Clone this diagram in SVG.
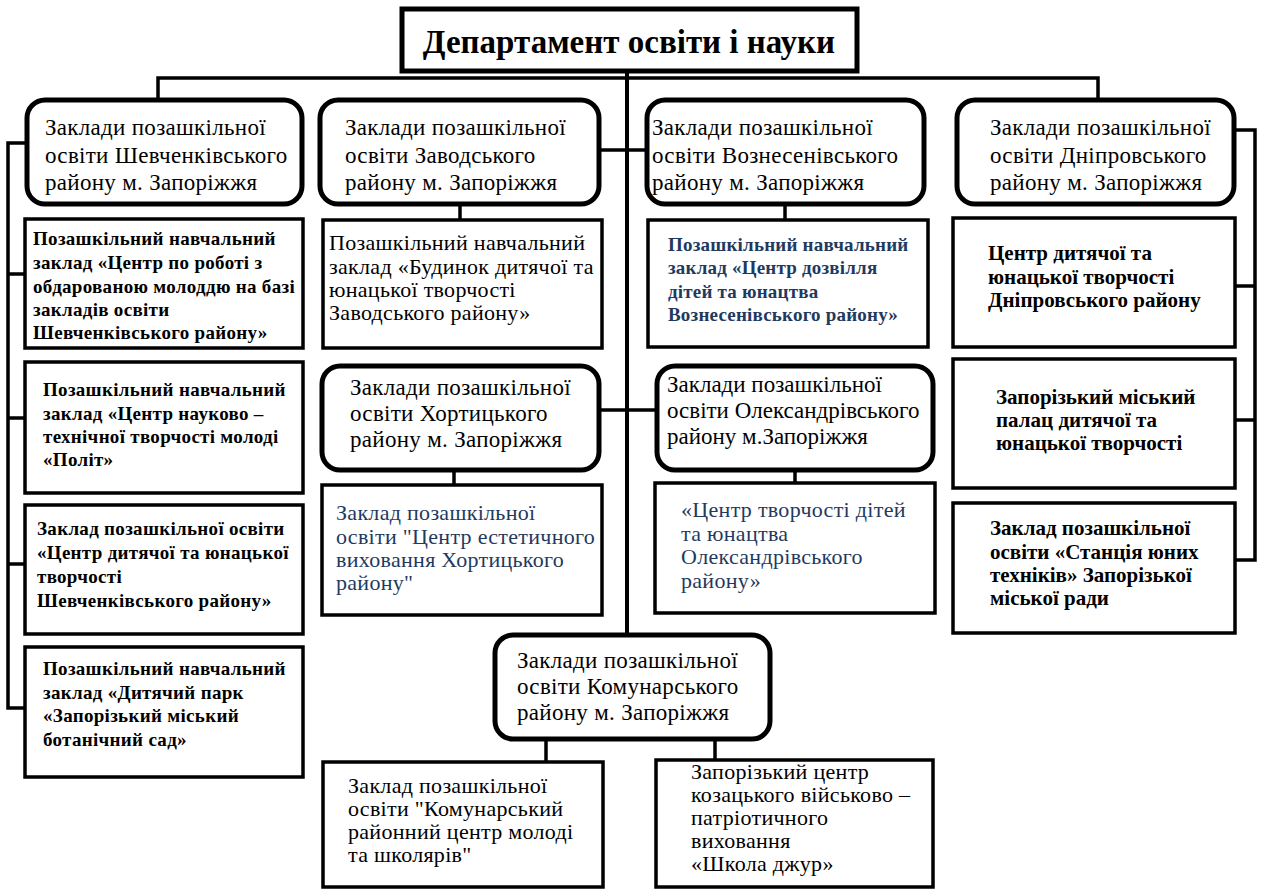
<svg xmlns="http://www.w3.org/2000/svg" width="1262" height="889" viewBox="0 0 1262 889">
<style>
.title{fill:#fff;stroke:#000;stroke-width:5}
.hdr{fill:#fff;stroke:#000;stroke-width:5}
.box{fill:#fff;stroke:#000;stroke-width:3.5}
.conn{fill:none;stroke:#000;stroke-width:3.5}
text{font-family:"Liberation Serif","Times New Roman",serif;fill:#000}
.tt{font-size:33px;font-weight:bold}
.ht{font-size:23px;letter-spacing:0.3px}
.lb{font-size:19px;font-weight:bold;letter-spacing:0.3px}
.rg{font-size:22px;letter-spacing:0.3px}
.rb{font-size:21px;font-weight:bold}
.nvb{font-size:19px;font-weight:bold;fill:#1F3A5F;letter-spacing:0.2px}
.nvr{font-size:22px;fill:#1F3A5F;letter-spacing:0.3px}
</style>
<rect width="1262" height="889" fill="#fff"/>
<g id="connectors">
<path class="conn" d="M627 72 V635" style="stroke-width:4"/>
<path class="conn" d="M158 100 V78 H1098 V100"/>
<path class="conn" d="M599 150 H647"/>
<path class="conn" d="M460 204 V220"/>
<path class="conn" d="M785 204 V220"/>
<path class="conn" d="M599 410 H657"/>
<path class="conn" d="M454 470 V485"/>
<path class="conn" d="M795 470 V483"/>
<path class="conn" d="M546 739 V762"/>
<path class="conn" d="M715 739 V760"/>
<path class="conn" d="M27 143 H8 V708 H25 M8 274 H25 M8 418 H25 M8 564 H25"/>
<path class="conn" d="M1234 130 H1255 V560 H1235 M1235 286 H1255 M1235 420 H1255"/>
</g>
<g id="title">
<rect class="title" x="402" y="9" width="455" height="62"/>
<text class="tt" x="629" y="53" text-anchor="middle">Департамент освіти і науки</text>
</g>
<g id="shev">
<rect class="hdr" x="27" y="100" width="275" height="104" rx="18"/>
<text class="ht" x="45" y="135">Заклади позашкільної</text>
<text class="ht" x="45" y="163">освіти Шевченківського</text>
<text class="ht" x="45" y="190">району м. Запоріжжя</text>
</g>
<g id="zav">
<rect class="hdr" x="320" y="100" width="279" height="104" rx="18"/>
<text class="ht" x="345" y="135">Заклади позашкільної</text>
<text class="ht" x="345" y="163">освіти Заводського</text>
<text class="ht" x="345" y="190">району м. Запоріжжя</text>
</g>
<g id="vozn">
<rect class="hdr" x="647" y="100" width="277" height="104" rx="18"/>
<text class="ht" x="652" y="135">Заклади позашкільної</text>
<text class="ht" x="652" y="163">освіти Вознесенівського</text>
<text class="ht" x="652" y="190">району м. Запоріжжя</text>
</g>
<g id="dnip">
<rect class="hdr" x="957" y="100" width="277" height="104" rx="18"/>
<text class="ht" x="990" y="135">Заклади позашкільної</text>
<text class="ht" x="990" y="163">освіти Дніпровського</text>
<text class="ht" x="990" y="190">району м. Запоріжжя</text>
</g>
<g id="hort">
<rect class="hdr" x="322" y="366" width="277" height="104" rx="18"/>
<text class="ht" x="350" y="395">Заклади позашкільної</text>
<text class="ht" x="350" y="421">освіти Хортицького</text>
<text class="ht" x="350" y="447">району м.  Запоріжжя</text>
</g>
<g id="olex">
<rect class="hdr" x="657" y="366" width="276" height="104" rx="18"/>
<text class="ht" x="667" y="392" style="letter-spacing:0">Заклади позашкільної</text>
<text class="ht" x="667" y="418" style="letter-spacing:0">освіти Олександрівського</text>
<text class="ht" x="667" y="444" style="letter-spacing:0">району м.Запоріжжя</text>
</g>
<g id="kom">
<rect class="hdr" x="495" y="635" width="275" height="104" rx="18"/>
<text class="ht" x="517" y="668">Заклади позашкільної</text>
<text class="ht" x="517" y="694">освіти Комунарського</text>
<text class="ht" x="517" y="720">району м. Запоріжжя</text>
</g>
<g id="l1">
<rect class="box" x="25" y="219" width="278" height="129"/>
<text class="lb" x="33" y="245">Позашкільний навчальний</text>
<text class="lb" x="33" y="269">заклад «Центр по роботі з</text>
<text class="lb" x="33" y="293">обдарованою молоддю на базі</text>
<text class="lb" x="33" y="316">закладів освіти</text>
<text class="lb" x="33" y="339">Шевченківського району»</text>
</g>
<g id="l2">
<rect class="box" x="25" y="362" width="278" height="131"/>
<text class="lb" x="43" y="396">Позашкільний навчальний</text>
<text class="lb" x="43" y="420">заклад «Центр науково –</text>
<text class="lb" x="43" y="443">технічної творчості молоді</text>
<text class="lb" x="43" y="466">«Політ»</text>
</g>
<g id="l3">
<rect class="box" x="25" y="505" width="278" height="129"/>
<text class="lb" x="37" y="535">Заклад позашкільної освіти</text>
<text class="lb" x="37" y="559">«Центр дитячої та юнацької</text>
<text class="lb" x="37" y="583">творчості</text>
<text class="lb" x="37" y="607">Шевченківського району»</text>
</g>
<g id="l4">
<rect class="box" x="25" y="647" width="278" height="130"/>
<text class="lb" x="43" y="675">Позашкільний навчальний</text>
<text class="lb" x="43" y="699">заклад «Дитячий парк</text>
<text class="lb" x="43" y="722">«Запорізький міський</text>
<text class="lb" x="43" y="746">ботанічний сад»</text>
</g>
<g id="z1">
<rect class="box" x="323" y="220" width="279" height="128"/>
<text class="rg" x="329" y="250">Позашкільний навчальний</text>
<text class="rg" x="329" y="274">заклад «Будинок дитячої та</text>
<text class="rg" x="329" y="297">юнацької творчості</text>
<text class="rg" x="329" y="320">Заводського району»</text>
</g>
<g id="v1">
<rect class="box" x="648" y="220" width="280" height="127"/>
<text class="nvb" x="668" y="251">Позашкільний навчальний</text>
<text class="nvb" x="668" y="274">заклад «Центр дозвілля</text>
<text class="nvb" x="668" y="298">дітей та юнацтва</text>
<text class="nvb" x="668" y="321">Вознесенівського району»</text>
</g>
<g id="r1">
<rect class="box" x="953" y="218" width="282" height="129"/>
<text class="rb" x="988" y="260">Центр дитячої та</text>
<text class="rb" x="988" y="284">юнацької творчості</text>
<text class="rb" x="988" y="307">Дніпровського району</text>
</g>
<g id="r2">
<rect class="box" x="953" y="359" width="282" height="129"/>
<text class="rb" x="996" y="404">Запорізький міський</text>
<text class="rb" x="996" y="427">палац дитячої та</text>
<text class="rb" x="996" y="450">юнацької творчості</text>
</g>
<g id="r3">
<rect class="box" x="953" y="503" width="282" height="130"/>
<text class="rb" x="990" y="535">Заклад позашкільної</text>
<text class="rb" x="990" y="559">освіти «Станція юних</text>
<text class="rb" x="990" y="582">техніків» Запорізької</text>
<text class="rb" x="990" y="605">міської ради</text>
</g>
<g id="h1">
<rect class="box" x="322" y="485" width="280" height="130"/>
<text class="nvr" x="336" y="520">Заклад позашкільної</text>
<text class="nvr" x="336" y="544">освіти "Центр естетичного</text>
<text class="nvr" x="336" y="567">виховання Хортицького</text>
<text class="nvr" x="336" y="590">району"</text>
</g>
<g id="o1">
<rect class="box" x="655" y="483" width="280" height="130"/>
<text class="nvr" x="681" y="517">«Центр творчості дітей</text>
<text class="nvr" x="681" y="541">та юнацтва</text>
<text class="nvr" x="681" y="564">Олександрівського</text>
<text class="nvr" x="681" y="588">району»</text>
</g>
<g id="k1">
<rect class="box" x="323" y="762" width="280" height="125"/>
<text class="rg" x="348" y="793">Заклад позашкільної</text>
<text class="rg" x="348" y="816">освіти "Комунарський</text>
<text class="rg" x="348" y="839">районний центр молоді</text>
<text class="rg" x="348" y="862">та школярів"</text>
</g>
<g id="k2">
<rect class="box" x="656" y="760" width="277" height="127"/>
<text class="rg" x="691" y="779">Запорізький центр</text>
<text class="rg" x="691" y="802">козацького військово –</text>
<text class="rg" x="691" y="825">патріотичного</text>
<text class="rg" x="691" y="848">виховання</text>
<text class="rg" x="691" y="871">«Школа джур»</text>
</g>
</svg>
